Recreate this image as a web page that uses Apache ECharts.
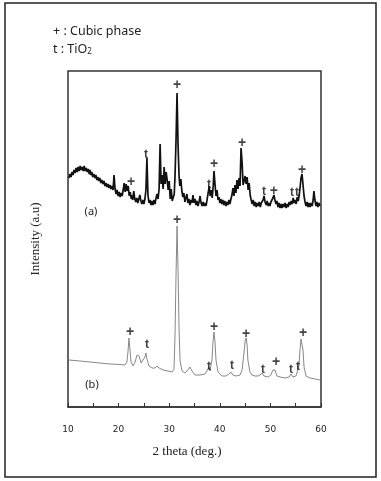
<!DOCTYPE html>
<html>
<head>
<meta charset="utf-8">
<script src="https://cdn.jsdelivr.net/npm/echarts@6/dist/echarts.min.js"></script>
<style>
  html, body { margin: 0; padding: 0; background: #fff; }
  #chart { width: 381px; height: 481px; }
</style>
</head>
<body>
<div id="chart"></div>
<script>
// x axis: 2 theta (deg.)
var xTicks = [10, 20, 30, 40, 50, 60];

// trace (a), noisy pattern, [2theta, intensity]
var traceA = [
  [10.2, 229], [10.4, 233], [10.6, 230], [10.8, 235], [11.0, 232], [11.2, 237], [11.4, 234], [11.6, 239],
  [11.8, 235], [12.0, 240], [12.2, 236], [12.4, 241], [12.6, 237], [12.8, 240], [13.0, 236], [13.2, 241],
  [13.4, 236], [13.6, 239], [13.8, 235], [14.0, 238], [14.2, 233], [14.35, 237], [14.5, 232], [14.7, 235],
  [14.9, 230], [15.1, 233], [15.3, 229], [15.5, 232], [15.7, 227], [15.9, 230], [16.1, 226], [16.3, 229],
  [16.5, 224], [16.7, 227], [16.9, 223], [17.1, 226], [17.3, 221], [17.5, 224], [17.7, 220], [17.9, 223],
  [18.1, 219], [18.3, 222], [18.5, 218], [18.7, 221], [18.9, 217], [19.1, 232], [19.3, 218], [19.5, 213],
  [19.7, 217], [19.9, 211], [20.1, 215], [20.3, 210], [20.5, 214], [20.7, 211], [20.9, 217], [21.1, 224],
  [21.3, 215], [21.5, 223], [21.7, 216], [21.9, 221], [22.1, 211], [22.3, 215], [22.5, 208], [22.6, 212],
  [22.8, 207], [23.0, 216], [23.2, 208], [23.4, 205], [23.6, 209], [23.8, 204], [24.0, 208], [24.2, 212],
  [24.4, 206], [24.6, 203], [24.8, 207], [25.0, 203], [25.2, 208], [25.4, 217], [25.6, 249], [25.8, 212],
  [26.0, 204], [26.2, 207], [26.4, 202], [26.6, 206], [26.8, 202], [27.0, 207], [27.2, 203], [27.4, 209],
  [27.6, 213], [27.8, 208], [28.0, 218], [28.2, 263], [28.4, 223], [28.6, 232], [28.8, 218], [29.0, 240],
  [29.2, 223], [29.4, 235], [29.6, 227], [29.8, 217], [30.0, 226], [30.2, 208], [30.4, 218], [30.6, 206],
  [30.8, 204], [31.0, 213], [31.15, 231], [31.35, 267], [31.55, 314], [31.75, 262], [31.95, 231], [32.1, 221],
  [32.3, 228], [32.5, 216], [32.7, 210], [32.9, 214], [33.1, 205], [33.3, 209], [33.5, 213], [33.7, 204],
  [33.9, 208], [34.1, 202], [34.3, 207], [34.5, 204], [34.7, 212], [34.9, 204], [35.1, 208], [35.3, 202],
  [35.5, 206], [35.7, 201], [35.9, 205], [36.1, 211], [36.3, 204], [36.5, 201], [36.7, 205], [36.9, 201],
  [37.1, 204], [37.3, 201], [37.5, 208], [37.7, 214], [37.9, 221], [38.1, 211], [38.3, 217], [38.5, 209],
  [38.7, 221], [38.85, 236], [39.05, 223], [39.25, 211], [39.45, 217], [39.65, 207], [39.85, 210], [40.0, 204],
  [40.2, 208], [40.4, 203], [40.6, 207], [40.8, 202], [41.0, 206], [41.2, 201], [41.4, 205], [41.6, 202],
  [41.8, 207], [42.0, 203], [42.2, 208], [42.4, 212], [42.6, 219], [42.8, 211], [43.0, 222], [43.2, 214],
  [43.4, 227], [43.6, 218], [43.8, 229], [44.0, 221], [44.2, 259], [44.4, 245], [44.6, 222], [44.8, 226],
  [45.0, 231], [45.2, 223], [45.4, 230], [45.6, 217], [45.8, 224], [46.0, 212], [46.2, 207], [46.4, 203],
  [46.6, 207], [46.8, 201], [47.0, 205], [47.2, 200], [47.4, 204], [47.6, 201], [47.8, 205], [48.0, 200],
  [48.2, 204], [48.4, 202], [48.55, 207], [48.75, 211], [48.95, 205], [49.15, 202], [49.35, 206], [49.55, 201],
  [49.75, 204], [49.9, 201], [50.1, 205], [50.3, 207], [50.5, 209], [50.7, 212], [50.9, 207], [51.1, 203],
  [51.3, 206], [51.5, 200], [51.7, 204], [51.9, 199], [52.1, 203], [52.3, 199], [52.5, 203], [52.7, 200],
  [52.9, 204], [53.1, 199], [53.3, 203], [53.5, 200], [53.7, 205], [53.9, 202], [54.1, 206], [54.3, 203],
  [54.5, 209], [54.7, 204], [54.9, 207], [55.1, 203], [55.3, 210], [55.5, 206], [55.7, 212], [55.85, 219],
  [56.05, 229], [56.25, 233], [56.45, 222], [56.65, 211], [56.85, 205], [57.05, 201], [57.25, 205], [57.45, 200],
  [57.65, 204], [57.85, 200], [58.05, 204], [58.25, 201], [58.45, 207], [58.6, 216], [58.8, 207], [59.0, 201],
  [59.2, 205], [59.4, 200], [59.6, 204], [59.8, 201]
];

// trace (b), smooth pattern
var traceB = [
  [10.2, 47], [12.4, 46], [14.35, 45], [16.3, 44], [18.3, 43], [20.3, 42.5], [21.25, 42], [21.65, 45],
  [21.85, 55], [22.05, 69], [22.25, 57], [22.45, 45], [22.85, 41], [23.25, 45], [23.65, 52], [23.85, 54],
  [24.05, 51], [24.45, 44], [24.8, 43], [25.2, 50], [25.4, 54], [25.6, 48], [26.0, 41], [26.6, 39],
  [27.2, 39], [27.6, 41], [28.0, 39], [28.8, 37], [29.75, 36], [30.55, 35], [30.95, 38], [31.15, 72],
  [31.35, 132], [31.55, 181], [31.75, 137], [31.95, 77], [32.15, 46], [32.55, 36], [33.1, 34], [33.7, 37],
  [34.1, 40], [34.5, 36], [35.1, 32], [36.1, 32], [37.05, 33], [37.45, 36], [37.85, 40], [38.05, 36],
  [38.45, 47], [38.65, 65], [38.85, 75], [39.05, 65], [39.25, 47], [39.65, 35], [40.45, 31], [41.2, 31],
  [41.8, 33], [42.2, 35], [42.6, 32], [43.2, 31], [44.0, 32], [44.4, 37], [44.8, 55], [45.0, 66],
  [45.2, 69], [45.4, 62], [45.55, 47], [45.95, 35], [46.35, 32], [46.95, 31], [47.55, 31], [47.95, 32],
  [48.35, 34], [48.75, 31], [49.5, 30], [50.1, 32], [50.5, 37], [50.7, 39], [50.9, 37], [51.3, 31],
  [51.9, 30], [52.9, 29], [53.7, 30], [54.1, 33], [54.45, 30], [55.05, 31], [55.25, 33], [55.65, 41],
  [55.85, 57], [56.05, 68], [56.25, 69], [56.45, 57], [56.65, 40], [57.05, 31], [57.85, 29], [58.8, 28],
  [59.8, 27]
];

// phase marks: + cubic phase, t TiO2
var marksA = [
  [22.45, 225, '+'], [25.4, 252, 't'], [31.55, 322, '+'], [37.85, 222, 't'], [38.85, 243, '+'],
  [44.4, 264, '+'], [48.75, 215, 't'], [50.7, 216, '+'], [54.25, 214, 't'], [55.25, 214, 't'],
  [56.25, 237, '+']
];
var marksB = [
  [22.25, 75, '+'], [25.6, 62, 't'], [31.55, 187, '+'], [37.85, 40, 't'], [38.85, 80, '+'],
  [42.4, 41, 't'], [45.2, 73, '+'], [48.55, 37, 't'], [51.1, 45, '+'], [54.05, 37, 't'],
  [55.45, 40, 't'], [56.45, 74, '+']
];

var chart = echarts.init(document.getElementById('chart'));

function markSeries(data) {
  return {
    type: 'scatter',
    data: data,
    symbol: 'circle',
    symbolSize: 1,
    itemStyle: { color: 'rgba(0,0,0,0)' },
    silent: true,
    z: 5,
    label: {
      show: true,
      position: 'inside',
      formatter: function (p) {
        return p.value[2] === '+' ? '{p|+}' : '{t|t}';
      },
      rich: {
        p: { color: '#111', fontSize: 14, fontWeight: 'bold', fontFamily: 'Liberation Sans' },
        t: { color: '#111', fontSize: 12, fontWeight: 'bold', fontFamily: 'Liberation Sans' }
      }
    }
  };
}

chart.setOption({
  animation: false,
  backgroundColor: '#fff',
  grid: {
    left: 68, right: 60, top: 71, bottom: 74,
    show: true, borderColor: '#333', borderWidth: 1.5
  },
  xAxis: {
    type: 'value',
    min: 10, max: 60, interval: 5,
    axisLine: { show: true, lineStyle: { color: '#333', width: 1.5 } },
    axisTick: { show: true, inside: true, length: 4, interval: 0, lineStyle: { color: '#333' } },
    axisLabel: {
      interval: 1, margin: 18, color: '#222', fontSize: 9, fontFamily: 'DejaVu Sans',
      formatter: function (v) { return xTicks.indexOf(v) >= 0 ? String(v) : ''; }
    },
    splitLine: { show: false }
  },
  yAxis: {
    type: 'value',
    min: 0, max: 336,
    name: 'Intensity (a.u)',
    nameLocation: 'middle',
    nameGap: 26,
    nameTextStyle: { fontFamily: 'Liberation Serif', fontSize: 13, color: '#222' },
    axisLine: { show: false },
    axisTick: { show: false },
    axisLabel: { show: false },
    splitLine: { show: false }
  },
  series: [
    {
      type: 'line', data: traceA, showSymbol: false, silent: true,
      lineStyle: { color: '#111', width: 1.7 }
    },
    {
      type: 'line', data: traceB, showSymbol: false, silent: true,
      lineStyle: { color: '#888', width: 1 }
    },
    markSeries(marksA),
    markSeries(marksB)
  ],
  graphic: [
    {
      type: 'rect', silent: true,
      shape: { x: 5, y: 3, width: 371, height: 474 },
      style: { fill: 'none', stroke: '#222', lineWidth: 1.5 }
    },
    {
      type: 'text', left: 53, top: 25,
      style: { text: '+ : Cubic phase', fontFamily: 'Noto Sans', fontSize: 12.5, fill: '#222' }
    },
    {
      type: 'text', left: 53, top: 43,
      style: {
        text: '{a|t : TiO}{s|2}',
        rich: {
          a: { fontFamily: 'Noto Sans', fontSize: 12.5, fill: '#222', verticalAlign: 'bottom' },
          s: { fontFamily: 'Noto Sans', fontSize: 8, fill: '#222', padding: [6, 0, 0, 0], verticalAlign: 'bottom' }
        }
      }
    },
    {
      type: 'text', x: 91, y: 212,
      style: { text: '(a)', fontFamily: 'Noto Sans', fontSize: 11, fill: '#222', align: 'center', verticalAlign: 'middle' }
    },
    {
      type: 'text', x: 92, y: 385,
      style: { text: '(b)', fontFamily: 'Noto Sans', fontSize: 11, fill: '#222', align: 'center', verticalAlign: 'middle' }
    },
    {
      type: 'text', x: 187, y: 452,
      style: { text: '2 theta (deg.)', fontFamily: 'Liberation Serif', fontSize: 13, fill: '#222', align: 'center', verticalAlign: 'middle' }
    }
  ]
});
</script>
</body>
</html>
